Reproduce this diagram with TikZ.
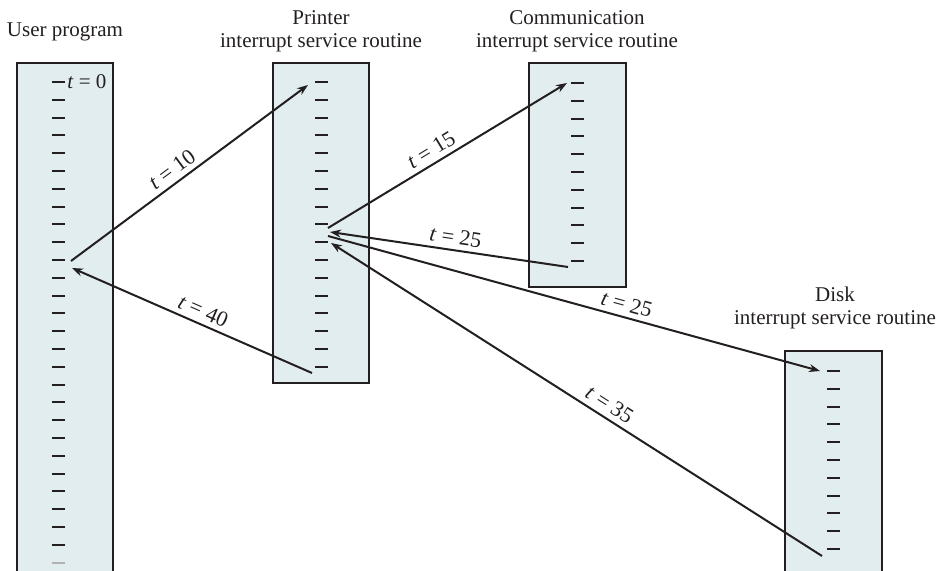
\documentclass[tikz,border=0pt]{standalone}
\usepackage{fontspec}
\setmainfont{Liberation Serif}
\usepackage{tikz}
\usetikzlibrary{arrows.meta}
\definecolor{stackfill}{RGB}{226,237,240}
\definecolor{ink}{RGB}{35,31,32}

\begin{document}
\begin{tikzpicture}[x=0.5pt, y=-0.5pt, >={Stealth[length=5.5pt, width=4pt]},
		font=\fontsize{10.5}{11.5}\selectfont,
		title/.style={align=center, anchor=south, inner sep=0pt, text=ink},
		conn/.style={->, line width=1pt, ink},
		tlab/.style={sloped, above, inner sep=2.5pt, text=ink, font=\fontsize{11}{12}\selectfont}]
		\useasboundingbox (0,0) rectangle (941,571);
		\clip (0,0) rectangle (941,571);

		% Macro for drawing a routine as a shaded column of instruction ticks.
		% Usage: \drawstack{left}{top}{right}{bottom}{tick x}{first tick y}{ticks}
		\newcommand{\drawstack}[7]{
			\draw[ink, line width=0.6pt, fill=stackfill] (#1,#2) rectangle (#3,#4);
			\foreach \i in {1,...,#7} {
				\pgfmathsetmacro{\ty}{#6+(\i-1)*17.8}
				\draw[ink, line width=1pt] (#5,\ty) -- (#5+13,\ty);
			}
		}
		% Macro for a time stamp label
		\newcommand{\tstamp}[1]{\textit{t} = #1}

		% Columns
		\drawstack{17}{63}{113}{590}{52}{82}{27};
		\draw[gray!60, line width=1pt] (52,562.6) -- (65,562.6);
		\drawstack{273}{63}{369}{383}{315}{82}{17};
		\drawstack{529}{63}{626}{287}{571}{83}{11};
		\drawstack{785}{351}{882}{590}{827}{371}{11};

		% Titles
		\node[title] (userlabel) at (65,41.5) {User program};
		\node[title] (printerlabel) at (321,52.5) {Printer\\interrupt service routine};
		\node[title] (commlabel) at (577,52.5) {Communication\\interrupt service routine};
		\node[title] (disklabel) at (835,329.5) {Disk\\interrupt service routine};
		\node[anchor=west, inner sep=1pt, text=ink] (startlabel) at (65,82) {\tstamp{0}};

		% End points of the transfers
		\coordinate (u-call) at (71,261);
		\coordinate (u-back) at (72,268);
		\coordinate (p-start) at (308,85);
		\coordinate (p-call) at (328,228);
		\coordinate (p-back1) at (330,232);
		\coordinate (p-call2) at (328,236);
		\coordinate (p-back2) at (331,243);
		\coordinate (p-end) at (312,373);
		\coordinate (c-start) at (567,83);
		\coordinate (c-end) at (568,267);
		\coordinate (d-start) at (820,371);
		\coordinate (d-end) at (822,556);

		% Transfers of control
		\draw[conn] (u-call) -- node[tlab, pos=0.46] {\tstamp{10}} (p-start);
		\draw[conn] (p-call) -- node[tlab, pos=0.46] {\tstamp{15}} (c-start);
		\draw[conn] (c-end) -- node[tlab, pos=0.48] {\tstamp{25}} (p-back1);
		\draw[conn] (p-call2) -- node[tlab, pos=0.60] {\tstamp{25}} (d-start);
		\draw[conn] (d-end) -- node[tlab, pos=0.447] {\tstamp{35}} (p-back2);
		\draw[conn] (p-end) -- node[tlab, pos=0.475] {\tstamp{40}} (u-back);
	\end{tikzpicture}
\end{document}
